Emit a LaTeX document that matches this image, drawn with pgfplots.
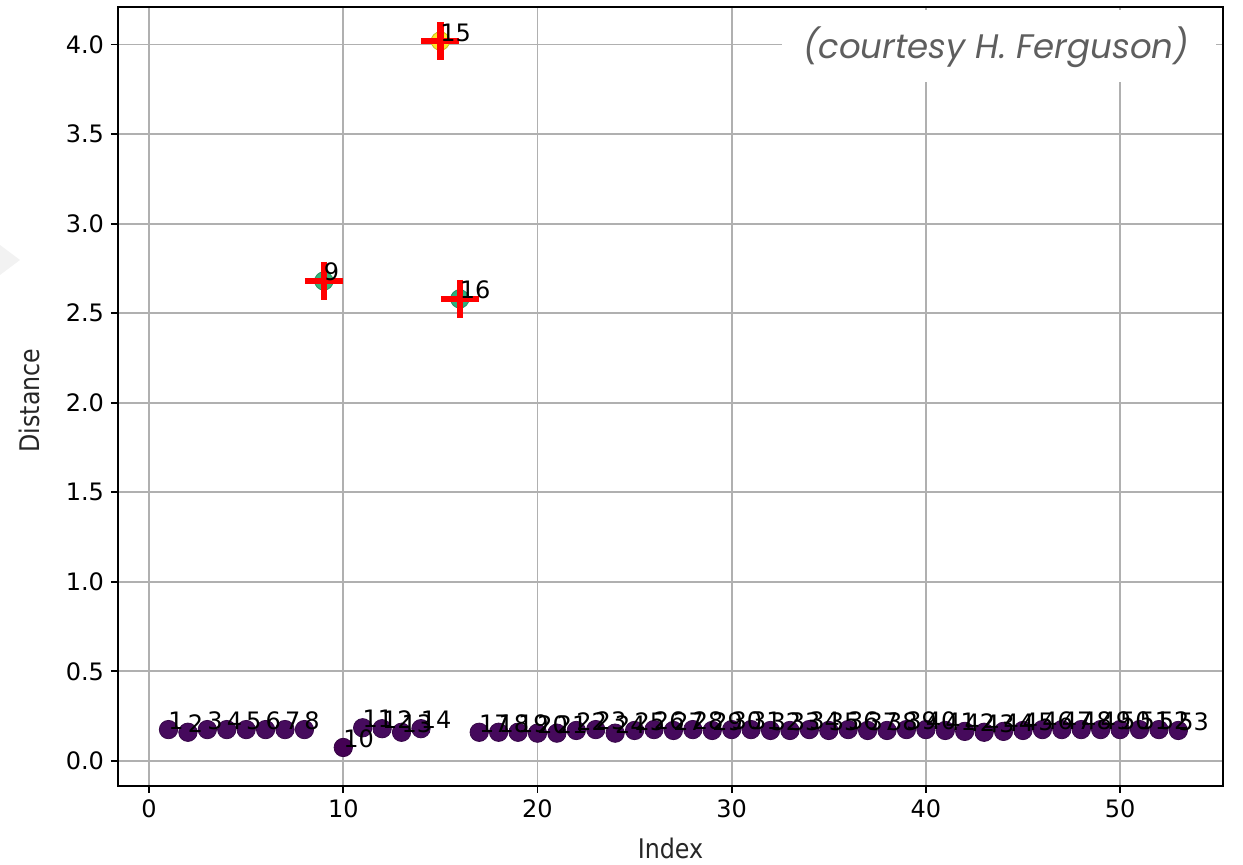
\documentclass[border=0pt]{standalone}
\usepackage{fontspec}
\setmainfont{DejaVu Sans}
\newfontfamily\condfont[FakeStretch=0.88]{DejaVu Sans}
\newfontfamily\courtfont{Poppins}
\usepackage{pgfplots}
\usepackage{pgfplotstable}
\pgfplotsset{compat=1.18}
\definecolor{gridgray}{HTML}{B0B0B0}
\definecolor{courtgray}{HTML}{5E5E5E}
\definecolor{slidegray}{HTML}{F2F2F2}
\definecolor{labgray}{HTML}{262626}

\pgfplotstableread{
x y label
1 0.175 1
2 0.160 2
3 0.175 3
4 0.175 4
5 0.175 5
6 0.175 6
7 0.175 7
8 0.175 8
9 2.680 9
10 0.075 10
11 0.185 11
12 0.180 12
13 0.160 13
14 0.180 14
15 4.020 15
16 2.580 16
17 0.160 17
18 0.160 18
19 0.160 19
20 0.155 20
21 0.155 21
22 0.170 22
23 0.175 23
24 0.155 24
25 0.170 25
26 0.175 26
27 0.170 27
28 0.175 28
29 0.170 29
30 0.175 30
31 0.175 31
32 0.170 32
33 0.170 33
34 0.175 34
35 0.170 35
36 0.175 36
37 0.170 37
38 0.170 38
39 0.175 39
40 0.175 40
41 0.170 41
42 0.165 42
43 0.160 43
44 0.165 44
45 0.170 45
46 0.175 46
47 0.175 47
48 0.175 48
49 0.175 49
50 0.175 50
51 0.175 51
52 0.175 52
53 0.170 53
}\data

\pgfplotstableread{
x y
9 2.68
15 4.02
16 2.58
}\outliers

\begin{document}
\begin{tikzpicture}
\begin{axis}[
  scale only axis,
  width=552.5pt, height=389.5pt,
  xmin=-1.6, xmax=55.3,
  ymin=-0.14, ymax=4.21,
  xtick={0,10,20,30,40,50},
  ytick={0,0.5,1,1.5,2,2.5,3,3.5,4},
  xtick pos=lower, ytick pos=left,
  tick align=outside,
  major tick length=3.5pt,
  every tick/.style={black, line width=0.9pt},
  axis line style={black, line width=0.9pt},
  grid=major,
  major grid style={gridgray, line width=0.9pt},
  /pgf/number format/assume math mode=true,
  tick label style={font=\fontsize{12}{14}\selectfont, black},
  yticklabel style={/pgf/number format/.cd, fixed, fixed zerofill, precision=1},
  xticklabel style={/pgf/number format/.cd, fixed, precision=0},
  xlabel={Index},
  ylabel={Distance},
  xlabel style={at={(axis description cs:0.5,-0.0925)}, anchor=base, font=\condfont\fontsize{13.5}{16}\selectfont, text=labgray},
  ylabel style={at={(axis description cs:-0.0706,0.495)}, anchor=base, font=\condfont\fontsize{13.5}{16}\selectfont, text=labgray},
  colormap/viridis,
  point meta min=0.075, point meta max=4.02,
  clip=false,
]
% viridis coloured dots
\addplot[scatter, only marks, mark=*, mark size=4.6pt, scatter src=y]
  table[x=x, y=y] {\data};
% outliers
\addplot[only marks, mark=+, mark size=9.5pt, color=red, line width=3.2pt]
  table[x=x, y=y] {\outliers};
% index labels
\addplot[draw=none, mark=none, nodes near coords, point meta=explicit symbolic,
  every node near coord/.append style={anchor=base west, inner sep=0pt, outer sep=0pt, font=\fontsize{12}{14}\selectfont, text=black}]
  table[x=x, y=y, meta=label] {\data};
% courtesy box
\fill[white] (rel axis cs:0.601,0.904) rectangle (rel axis cs:0.994,0.996);
\node[anchor=center, text=courtgray, font=\courtfont\itshape\fontsize{17}{19}\selectfont] at (rel axis cs:0.7946,0.9487) {(courtesy H. Ferguson)};
\end{axis}
\fill[slidegray] ([xshift=-59pt,yshift=270.5pt]current axis.south west) -- ([xshift=-59pt,yshift=255.5pt]current axis.south west) -- ([xshift=-49pt,yshift=263pt]current axis.south west) -- cycle;
\pgfresetboundingbox
\useasboundingbox ([xshift=-59pt,yshift=-39.5pt]current axis.south west) rectangle ([xshift=10pt,yshift=3.5pt]current axis.north east);
\end{tikzpicture}
\end{document}
